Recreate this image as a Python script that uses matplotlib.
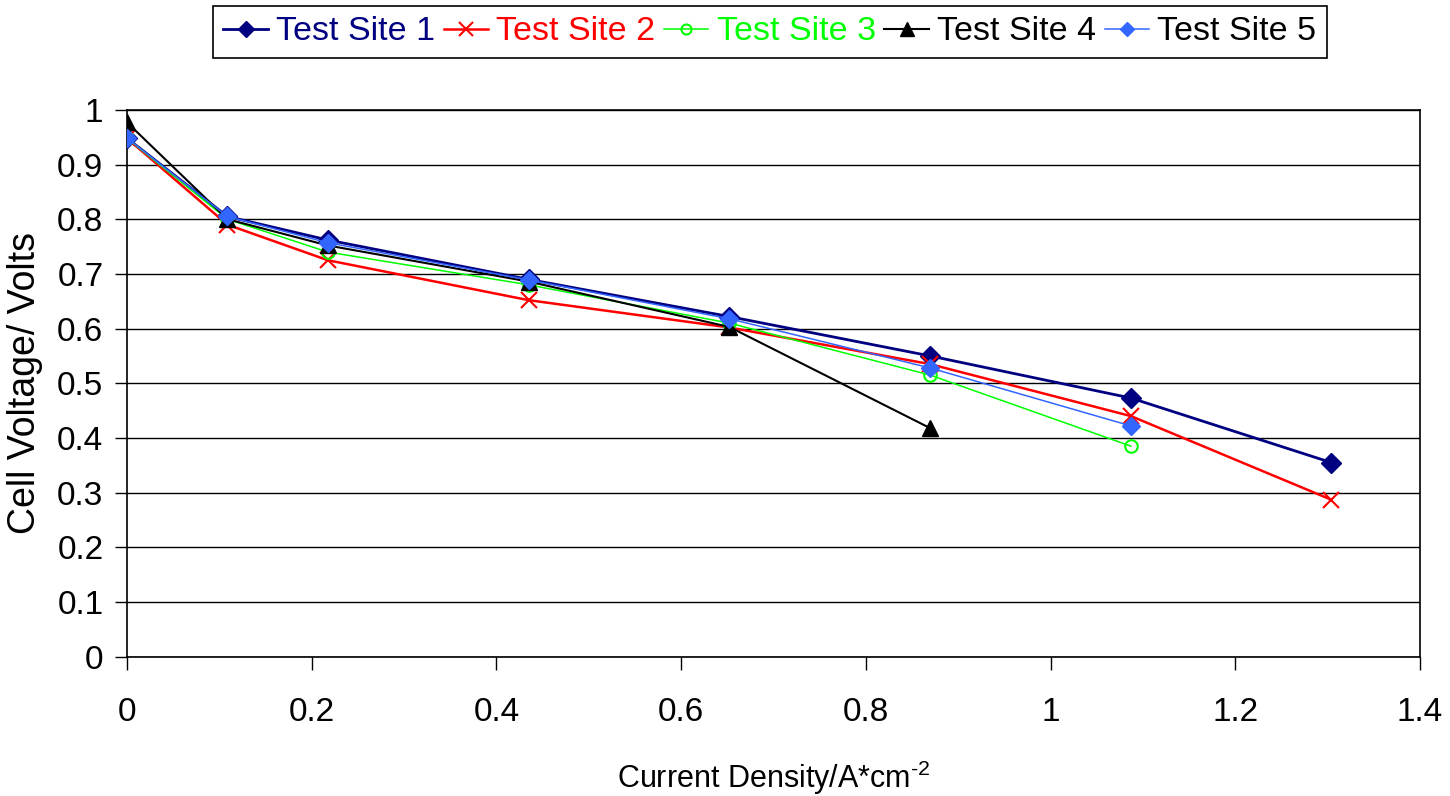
import matplotlib
matplotlib.use('Agg')
import matplotlib.pyplot as plt

# current density (A/cm^2) at each measured step
current = [0.0, 0.1087, 0.2174, 0.4348, 0.6522, 0.8696, 1.087, 1.304]

site1 = [0.948, 0.805, 0.762, 0.690, 0.622, 0.550, 0.473, 0.355]
site2 = [0.948, 0.790, 0.725, 0.652, 0.602, 0.535, 0.440, 0.287]
site3 = [0.948, 0.800, 0.740, 0.680, 0.610, 0.515, 0.385]
site4 = [0.977, 0.800, 0.752, 0.686, 0.603, 0.418]
site5 = [0.948, 0.805, 0.757, 0.689, 0.618, 0.528, 0.422]

labels = ['Test Site 1', 'Test Site 2', 'Test Site 3', 'Test Site 4', 'Test Site 5']
text_colors = ['#000080', '#FF0000', '#00FF00', 'black', 'black']

plt.rcParams['font.family'] = ['Liberation Sans', 'DejaVu Sans']
plt.rcParams['mathtext.fontset'] = 'custom'
plt.rcParams['mathtext.rm'] = 'Liberation Sans'

fig = plt.figure(figsize=(14.5, 7.96), dpi=100)
ax = fig.add_axes([0.0876, 0.175, 0.8917, 0.687])

ax.plot(current[:len(site1)], site1, color='#000080', lw=2, marker='D', ms=10,
        label=labels[0], zorder=3)
ax.plot(current[:len(site2)], site2, color='#FF0000', lw=1.8, marker='x', ms=12,
        mew=1.5, label=labels[1], zorder=3)
ax.plot(current[:len(site3)], site3, color='#00FF00', lw=1.1, marker='o', ms=9,
        mfc='none', mew=1.5, label=labels[2], zorder=3)
ax.plot(current[:len(site4)], site4, color='black', lw=1.5, marker='^', ms=12,
        label=labels[3], zorder=3)
ax.plot(current[:len(site5)], site5, color='#3366FF', lw=1.1, marker='D', ms=9,
        label=labels[4], zorder=4)

ax.set_xlim(0, 1.4)
ax.set_ylim(0, 1)
ax.set_xticks([0, 0.2, 0.4, 0.6, 0.8, 1.0, 1.2, 1.4])
ax.set_xticklabels(['0', '0.2', '0.4', '0.6', '0.8', '1', '1.2', '1.4'])
ax.set_yticks([i / 10 for i in range(11)])
ax.set_yticklabels(['0', '0.1', '0.2', '0.3', '0.4', '0.5', '0.6', '0.7', '0.8', '0.9', '1'])
ax.yaxis.grid(True, color='black', lw=1)
ax.set_axisbelow(True)
for s in ax.spines.values():
    s.set_linewidth(1.2)
ax.tick_params(axis='x', length=9, width=1, direction='out', pad=20, labelsize=24)
ax.tick_params(axis='y', length=9, width=1, direction='out', pad=8, labelsize=24)

ax.set_xlabel(r'Current Density/A*cm$^{\text{-2}}$', fontsize=22, labelpad=22)
ax.set_ylabel('Cell Voltage/ Volts', fontsize=27, labelpad=10)

leg = fig.legend(loc='upper center', bbox_to_anchor=(0.531, 0.993), ncol=5,
                 fontsize=24.5, fancybox=False, edgecolor='black', framealpha=1,
                 handlelength=1.3, handletextpad=0.25, columnspacing=0.25,
                 markerscale=0.8, borderpad=0.32, borderaxespad=0)
leg.get_frame().set_linewidth(1.2)
for t, c in zip(leg.get_texts(), text_colors):
    t.set_color(c)

fig.savefig('out.png', dpi=100)
